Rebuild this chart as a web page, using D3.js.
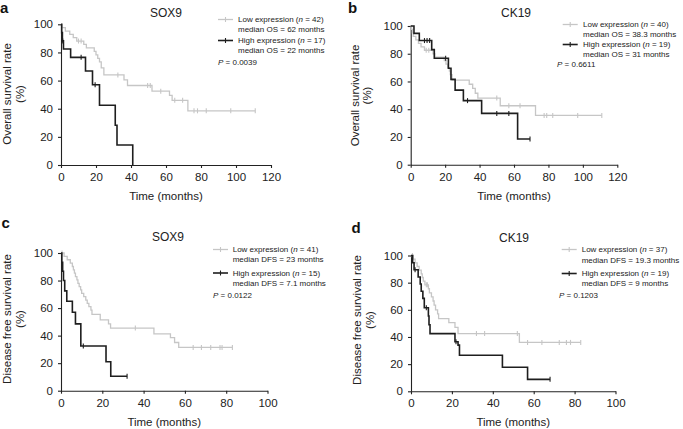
<!DOCTYPE html>
<html><head><meta charset="utf-8">
<script src="https://cdn.jsdelivr.net/npm/d3@7"></script>
<style>body{margin:0;background:#fff}svg{display:block;font-family:"Liberation Sans",Arial,Helvetica,sans-serif}</style>
</head><body><svg id="chart" width="683" height="429"></svg>
<script>
// ---------- data ----------
const yTicks = [0, 20, 40, 60, 80, 100];
const xTicksOS = [0, 20, 40, 60, 80, 100, 120];
const xTicksDFS = [0, 20, 40, 60, 80, 100];
const panelLetters = ["a", "b", "c", "d"];
const markers = ["SOX9", "CK19", "SOX9", "CK19"];
const yTitles = ["Overall survival rate", "Overall survival rate", "Disease free survival rate", "Disease free survival rate"];
const endpoint = ["OS", "OS", "DFS", "DFS"];
const nLow = [42, 40, 41, 37];
const nHigh = [17, 19, 15, 19];
const medianLow = ["62 months", "38.3 months", "23 months", "19.3 months"];
const medianHigh = ["22 months", "31 months", "7.1 months", "9 months"];
const pValues = ["0.0039", "0.6611", "0.0122", "0.1203"];

// Panel a: SOX9 OS
const aLowT = [0, 0.5, 2.5, 5, 7, 9, 13, 14.5, 19, 20, 21, 22, 23, 24.5, 36, 38, 52, 62, 63.5, 72.5];
const aLowS = [100, 97.6, 95.2, 92.9, 90.5, 88.1, 85.7, 83.2, 80.8, 78.3, 75.8, 73.3, 69, 64, 60.5, 56.5, 52.5, 49.5, 46, 38.5];
const aLowEnd = 111;
const aLowCens = [10, 11.5, 32.5, 49.5, 51, 57, 65, 69.5, 76, 78, 83, 97, 111];
const aHighT = [0, 0.4, 0.8, 1.4, 5.5, 14, 18, 22, 31, 32, 41];
const aHighS = [100, 94.1, 88.2, 82.4, 76.5, 66.8, 57, 42.5, 28.3, 14.2, 0];
const aHighEnd = 41;
const aHighCens = [1, 11.5, 19.5];

// Panel b: CK19 OS
const bLowT = [0, 0.5, 1, 1.5, 3, 4.5, 6, 8, 13, 14, 19.5, 20.5, 21.5, 22.5, 23, 24, 34, 36, 37.5, 39, 52, 72.5];
const bLowS = [100, 97.5, 95, 92.5, 90, 87.5, 85, 82.5, 80, 77.5, 75, 72.5, 70, 67.5, 65, 61, 58, 55, 51.5, 48, 42.5, 35.5];
const bLowEnd = 111;
const bLowCens = [9, 10.5, 50, 57, 63.5, 77.5, 79, 82.5, 97, 111];
const bHighT = [0, 1.9, 5, 12.2, 13.7, 21.9, 23.4, 25.8, 30.6, 41.2, 62.1];
const bHighS = [100, 94.7, 89.5, 83, 76.7, 69.5, 61.5, 53.8, 46.2, 37, 18.5];
const bHighEnd = 69.3;
const bHighCens = [8, 9.5, 11, 20.3, 33, 50, 57, 69.3];

// Panel c: SOX9 DFS
const cLowT = [0, 1.5, 3, 4.5, 5.5, 6, 6.5, 7, 7.7, 8.2, 8.8, 9.5, 10, 11, 12, 12.7, 13.5, 14.5, 15, 19, 23, 24, 45, 53, 55, 57];
const cLowS = [100, 97.6, 95.1, 92.7, 90.2, 87.8, 85.4, 82.9, 80.5, 78, 75.6, 73.2, 70.7, 68.3, 65.8, 63.4, 61, 58.5, 55.5, 51.5, 48.5, 45.5, 41.3, 38.5, 35, 31.4];
const cLowEnd = 83;
const cLowCens = [0.5, 36, 64, 68, 72.5, 77, 78, 83];
const cHighT = [0, 0.4, 0.8, 1.2, 1.8, 2.8, 5.5, 7, 9.6, 21.8, 24.1];
const cHighS = [100, 93.3, 86.7, 80, 72.5, 65, 57, 48.5, 32.5, 21, 10.5];
const cHighEnd = 32;
const cHighCens = [10.8, 32];

// Panel d: CK19 DFS
const dLowT = [0, 1, 2, 3, 4, 5, 5.5, 6, 6.8, 8.5, 9, 10, 10.8, 11.3, 12, 13, 13.5, 18.5, 21.5, 23, 53];
const dLowS = [100, 97.3, 94.6, 91.9, 89.2, 86.5, 83.8, 81.1, 78.4, 75.5, 72.5, 69.5, 66.5, 63.5, 60, 57, 53.5, 50.5, 47, 42.5, 36];
const dLowEnd = 83;
const dLowCens = [0.7, 7.5, 8, 32, 36, 52, 57, 64, 72.5, 76, 78, 83];
const dHighT = [0, 0.8, 1.5, 3.5, 4.5, 5, 5.8, 6.5, 8.5, 8.8, 9.3, 21.5, 23, 23.7, 44.7, 57];
const dHighS = [100, 94.7, 89.5, 84.2, 79, 73.7, 68.4, 61.5, 55.5, 49, 42.5, 36.5, 34, 26.5, 17.7, 8.8];
const dHighEnd = 68;
const dHighCens = [2, 7.5, 22, 68];

// ---------- layout ----------
const curves = [
  {low: [aLowT, aLowS, aLowEnd, aLowCens], high: [aHighT, aHighS, aHighEnd, aHighCens]},
  {low: [bLowT, bLowS, bLowEnd, bLowCens], high: [bHighT, bHighS, bHighEnd, bHighCens]},
  {low: [cLowT, cLowS, cLowEnd, cLowCens], high: [cHighT, cHighS, cHighEnd, cHighCens]},
  {low: [dLowT, dLowS, dLowEnd, dLowCens], high: [dHighT, dHighS, dHighEnd, dHighCens]}
];
const layout = [
  {l: 61, r: 271, b: 165, t: 24.3, xt: xTicksOS, letter: [0, 12.5], title: [166, 17.3], yt: [6.7, 20, 94],
   leg: {lx: 218, tx: 238, px: 218, rows: [19.5, 29.5, 40.5, 50.5, 62]}},
  {l: 410.7, r: 617.3, b: 164.7, t: 26, xt: xTicksOS, letter: [348, 13.3], title: [516, 17.3], yt: [354.7, 367, 95.5],
   leg: {lx: 562.7, tx: 583, px: 557, rows: [24.5, 34.5, 44.5, 54.5, 64.5]}},
  {l: 61, r: 267.5, b: 390.7, t: 253, xt: xTicksDFS, letter: [1.5, 228], title: [168, 241], yt: [7, 20, 319],
   leg: {lx: 213, tx: 232.7, px: 213, rows: [249.5, 259.5, 273, 283, 295]}},
  {l: 411, r: 615.5, b: 391.3, t: 255.5, xt: xTicksDFS, letter: [351.5, 233.3], title: [514, 241.5], yt: [357, 370, 320],
   leg: {lx: 561.7, tx: 581.7, px: 559, rows: [249.5, 260, 273.5, 283.5, 295.5]}}
];

const GRAY = "#c6c6c6", BLACK = "#1e1e1e", TXT = "#222";
const svg = d3.select("#chart");

function stepAt(T, S, t) {
  let v = S[0];
  for (let i = 0; i < T.length; i++) if (T[i] <= t) v = S[i];
  return v;
}

layout.forEach((L, k) => {
  const g = svg.append("g");
  const xMax = L.xt[L.xt.length - 1];
  const x = d3.scaleLinear().domain([0, xMax]).range([L.l, L.r]);
  const y = d3.scaleLinear().domain([0, 100]).range([L.b, L.t]);

  // axes
  const ax = g.append("g").attr("transform", `translate(0,${L.b})`)
    .call(d3.axisBottom(x).tickValues(L.xt).tickSize(3).tickPadding(5).tickSizeOuter(0));
  const ay = g.append("g").attr("transform", `translate(${L.l},0)`)
    .call(d3.axisLeft(y).tickValues(yTicks).tickSize(3).tickPadding(5).tickSizeOuter(0));
  [ax, ay].forEach(a => {
    a.attr("font-family", null).attr("font-size", 11.5);
    a.selectAll("path,line").attr("stroke", TXT).attr("stroke-width", 1.1);
    a.selectAll("text").attr("fill", TXT);
  });

  // curves
  const line = d3.line().x(d => x(d[0])).y(d => y(d[1])).curve(d3.curveStepAfter);
  [["low", GRAY, 1.3], ["high", BLACK, 1.6]].forEach(([key, col, w]) => {
    const [T, S, end, C] = curves[k][key];
    const pts = T.map((t, i) => [t, S[i]]);
    pts.push([end, S[S.length - 1]]);
    g.append("path").attr("d", line(pts)).attr("fill", "none")
      .attr("stroke", col).attr("stroke-width", w);
    g.selectAll(null).data(C).enter().append("line")
      .attr("x1", d => x(d)).attr("x2", d => x(d))
      .attr("y1", d => y(stepAt(T, S, d)) - 2.5).attr("y2", d => y(stepAt(T, S, d)) + 2.5)
      .attr("stroke", col).attr("stroke-width", 1.1);
  });

  // panel letter
  g.append("text").attr("x", L.letter[0]).attr("y", L.letter[1]).attr("font-size", 15)
    .attr("font-weight", "bold").attr("fill", "#111").text(panelLetters[k]);
  // title
  g.append("text").attr("x", L.title[0]).attr("y", L.title[1]).attr("font-size", 12)
    .attr("text-anchor", "middle").attr("fill", TXT).text(markers[k]);
  // x title
  g.append("text").attr("x", (L.l + L.r) / 2).attr("y", L.b + 35).attr("font-size", 11.5)
    .attr("text-anchor", "middle").attr("fill", TXT).text("Time (months)");
  // y title
  [[L.yt[0], yTitles[k]], [L.yt[1], "(%)"]].forEach(([xx, s]) => {
    g.append("text").attr("transform", `translate(${xx},${L.yt[2]}) rotate(-90)`)
      .attr("dy", "0.35em").attr("font-size", 11.5).attr("text-anchor", "middle")
      .attr("fill", TXT).text(s);
  });

  // legend
  const lg = L.leg, fs = 8;
  [[GRAY, 0, nLow[k], "Low", medianLow[k], 1.3], [BLACK, 2, nHigh[k], "High", medianHigh[k], 1.6]].forEach(([col, r, n, lab, med, w]) => {
    const yy = lg.rows[r];
    g.append("line").attr("x1", lg.lx).attr("x2", lg.lx + 15).attr("y1", yy).attr("y2", yy)
      .attr("stroke", col).attr("stroke-width", w);
    g.append("line").attr("x1", lg.lx + 7.5).attr("x2", lg.lx + 7.5).attr("y1", yy - 2.5).attr("y2", yy + 2.5)
      .attr("stroke", col).attr("stroke-width", 1.1);
    const t1 = g.append("text").attr("x", lg.tx).attr("y", yy).attr("dy", "0.35em")
      .attr("font-size", fs).attr("fill", TXT);
    t1.append("tspan").text(lab + " expression (");
    t1.append("tspan").attr("font-style", "italic").text("n");
    t1.append("tspan").text(" = " + n + ")");
    g.append("text").attr("x", lg.tx).attr("y", lg.rows[r + 1]).attr("dy", "0.35em")
      .attr("font-size", fs).attr("fill", TXT).text("median " + endpoint[k] + " = " + med);
  });
  const pt = g.append("text").attr("x", lg.px).attr("y", lg.rows[4]).attr("dy", "0.35em")
    .attr("font-size", fs).attr("fill", TXT);
  pt.append("tspan").attr("font-style", "italic").text("P");
  pt.append("tspan").text(" = " + pValues[k]);
});
</script>
</body></html>
